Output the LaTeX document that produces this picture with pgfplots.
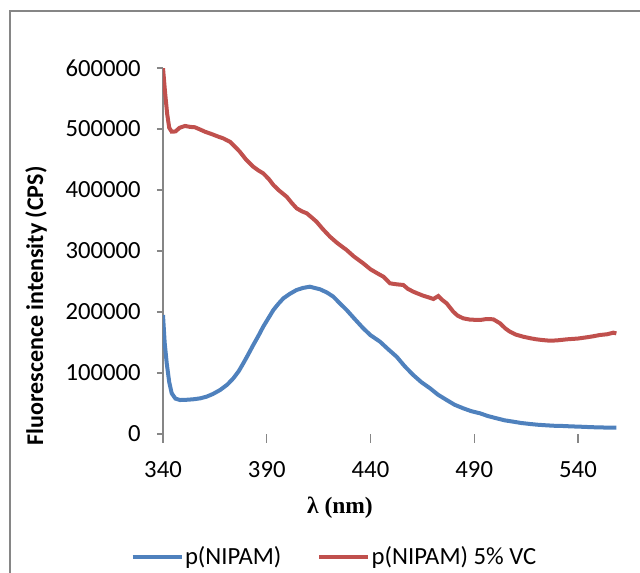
\documentclass[border=0pt]{standalone}
\usepackage{fontspec}
\setmainfont{Carlito}
\newfontfamily\serifbold{Liberation Serif}
\usepackage{pgfplots}
\pgfplotsset{compat=1.18}
\definecolor{pblue}{HTML}{4F81BD}
\definecolor{pred}{HTML}{C0504D}
\definecolor{axgray}{HTML}{868686}

\pgfplotstableread{
x y
340 195000
340.8 150000
341.8 115900
343 85000
344.2 66700
346 58000
348.2 55700
351 56000
354.6 56900
358 58500
361 61200
364 65500
367.5 72100
371 81000
373.9 91300
376.5 103000
378.7 115900
381 130000
383.5 145900
386 161000
388.3 175900
391 191000
393.2 203300
395.5 213000
398 222400
401 229500
404.4 236100
407.5 239500
410.8 241500
413 239500
415.7 237200
419 232000
422.1 225100
425 215000
428.5 203300
432 190000
436.5 173300
440 162000
444.6 151300
448.5 139000
452.6 126700
456.5 111000
460.6 96700
464.5 85000
468.7 74900
472.5 64500
476.7 55700
480.5 48000
484.7 42100
488.5 37500
492.8 33900
496.5 29500
500.8 25700
504.5 22500
508.8 20200
512.5 18100
516.9 16400
520.5 15200
524.9 14200
528.5 13500
532.9 13100
536.5 12500
540.9 12000
545 11400
549 10900
553 10600
557 10400
558.5 10300
}\nipam

\pgfplotstableread{
x y
340 600000
341 560000
342 525000
343 502000
344.2 495600
346 496000
348 502000
350.6 505000
353 503500
355.4 502800
358 499000
360.2 495600
364 491000
367 487000
369 484700
372.3 479000
375 470000
377 462800
380 450000
383.5 438200
386 432000
388.3 427300
391 418000
393.2 408200
396 399000
399.6 389000
402 379000
404.4 370000
407 365000
409.3 361800
412 354000
414 348000
417 336000
420.5 323400
424 313000
428.5 301600
432 291000
436.5 279800
440 270000
443 264000
446.2 257900
449.4 247000
452.6 245400
455.8 244300
458 238000
460.6 233300
463 230000
465.4 226700
468 224000
470.3 221300
472.7 226200
474.5 220000
476.7 214200
479.9 200500
482 194000
484.7 189600
488 187500
492.8 186900
496 188500
499.2 188000
502.4 181500
505 173000
507.2 167700
510 163000
513.6 159500
517 157000
520 155200
523 154000
526.5 152900
530 153500
534.6 155200
540 156500
544.2 158500
547 160000
550.6 162300
554 163500
557 166100
558.5 165000
}\nipamvc

\begin{document}
\begin{tikzpicture}
% page = 640 x 573 px at 0.75pt per px
\useasboundingbox (0,0) rectangle (480pt,-429.75pt);
\draw[axgray, line width=1.5pt] (7.5pt,-429.75pt) -- (7.5pt,-8pt) -- (480pt,-8pt);
\begin{axis}[
    at={(122.25pt,-325.5pt)}, anchor=south west,
    scale only axis, width=340.5pt, height=274.5pt,
    xmin=340, xmax=558.8, ymin=0, ymax=600000,
    axis y line*=left, axis x line*=bottom,
    x axis line style={draw=none},
    y axis line style={axgray, line width=0.8pt, -},
    tick align=outside,
    xtick={340,390,440,490,540},
    ytick={0,100000,200000,300000,400000,500000,600000},
    xtick style={axgray, line width=0.8pt, /pgfplots/major tick length=6.75pt},
    ytick style={axgray, line width=0.8pt, /pgfplots/major tick length=4.5pt},
    scaled ticks=false,
    /pgf/number format/.cd, fixed, 1000 sep={}, assume math mode=true, /pgfplots/.cd,
    ticklabel style={font=\fontsize{18.5}{20}\selectfont, text=black},
    yticklabel style={anchor=east, xshift=-9pt},
    xticklabel style={yshift=-13pt},
    legend columns=2,
    legend style={at={(0.377,-0.336)}, anchor=center, draw=none, fill=none,
        font=\fontsize{18.5}{20}\selectfont,
        /tikz/every even column/.append style={column sep=26pt},
        nodes={inner xsep=1pt}},
    legend image code/.code={\draw[#1] (0pt,0pt) -- (36.75pt,0pt);},
]
\addplot[pblue, line width=3pt] table {\nipam};
\addlegendentry{p(NIPAM)}
\addplot[pred, line width=3pt] table {\nipamvc};
\addlegendentry{p(NIPAM) 5\% VC}
\end{axis}
\node[rotate=90, font=\fontsize{18}{20}\selectfont\bfseries] at (27pt,-229.5pt) {Fluorescence intensity (CPS)};
\node[font=\fontsize{17.6}{20}\selectfont\serifbold\bfseries] at (255pt,-381pt) {λ (nm)};
\end{tikzpicture}
\end{document}
